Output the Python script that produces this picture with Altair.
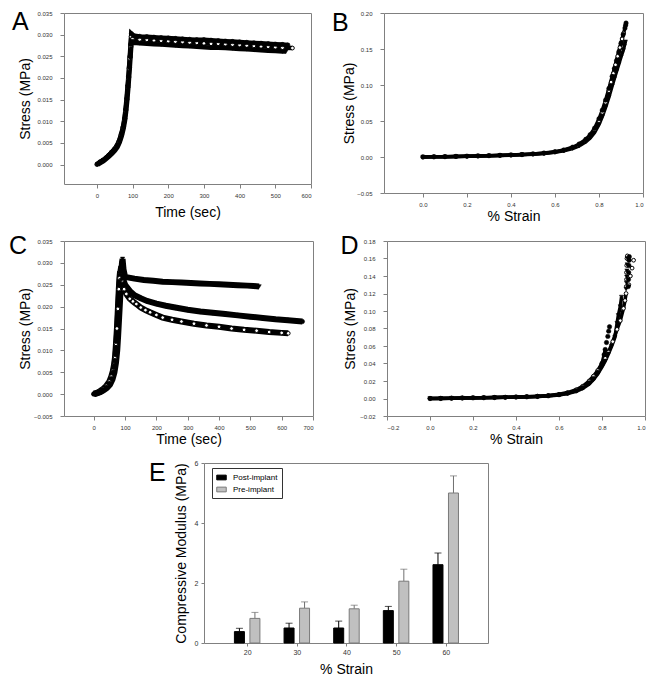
import altair as alt
import pandas as pd

FONT = "Liberation Sans"

# ---------------- Panel A : stress relaxation (time, stress) ----------------
a_fill_t = [1, 9, 17, 25, 33, 41, 49, 56, 63, 69, 74, 78, 81, 84, 87, 89, 91, 93, 95, 97,
            102, 120, 140, 160, 180, 200, 220, 240, 260, 280, 300, 320, 340, 360, 380, 400,
            420, 440, 460, 480, 500, 520, 535]
a_fill_s = [0.0001, 0.0006, 0.0010, 0.0015, 0.0021, 0.0028, 0.0035, 0.0043, 0.0055, 0.0071,
            0.0087, 0.0106, 0.0127, 0.0152, 0.0182, 0.0203, 0.0225, 0.0250, 0.0278, 0.0302,
            0.0298, 0.0296, 0.0295, 0.0294, 0.0293, 0.0292, 0.0291, 0.0290, 0.0289, 0.0288,
            0.0288, 0.0287, 0.0286, 0.0285, 0.0284, 0.0283, 0.0282, 0.0281, 0.0280, 0.0279,
            0.0278, 0.0277, 0.0276]
a_open_t = [0, 8, 16, 24, 32, 40, 48, 55, 62, 68, 73, 77, 80, 83, 86, 88, 90, 92, 94, 96,
            100, 120, 140, 160, 180, 200, 220, 240, 260, 280, 300, 320, 340, 360, 380, 400,
            420, 440, 460, 480, 500, 520, 548]
a_open_s = [0.0000, 0.0005, 0.0009, 0.0014, 0.0020, 0.0027, 0.0034, 0.0042, 0.0054, 0.0070,
            0.0086, 0.0105, 0.0125, 0.0150, 0.0180, 0.0200, 0.0222, 0.0245, 0.0272, 0.0296,
            0.0290, 0.0289, 0.0288, 0.0287, 0.0286, 0.0285, 0.0284, 0.0283, 0.0282, 0.0281,
            0.0280, 0.0279, 0.0279, 0.0278, 0.0277, 0.0276, 0.0275, 0.0274, 0.0273, 0.0272,
            0.0271, 0.0270, 0.0269]
a_tri_t = [3, 11, 19, 27, 35, 43, 51, 58, 64, 70, 75, 79, 82, 85, 88, 90, 92, 94, 96, 98,
           104, 120, 140, 160, 180, 200, 220, 240, 260, 280, 300, 320, 340, 360, 380, 400,
           420, 440, 460, 480, 500, 520, 530]
a_tri_s = [0.0000, 0.0004, 0.0008, 0.0013, 0.0019, 0.0025, 0.0032, 0.0040, 0.0051, 0.0066,
           0.0083, 0.0102, 0.0122, 0.0146, 0.0175, 0.0197, 0.0220, 0.0244, 0.0268, 0.0285,
           0.0281, 0.0280, 0.0279, 0.0278, 0.0277, 0.0276, 0.0275, 0.0274, 0.0273, 0.0272,
           0.0271, 0.0270, 0.0270, 0.0269, 0.0268, 0.0267, 0.0266, 0.0265, 0.0264, 0.0263,
           0.0262, 0.0261, 0.0261]

# ---------------- Panel B : stress-strain ----------------
b_flat_x = [0.00, 0.05, 0.10, 0.15, 0.20, 0.25, 0.30, 0.35, 0.40, 0.45, 0.50, 0.55, 0.60]
b_open_x = b_flat_x + [0.64, 0.68, 0.71, 0.74, 0.76, 0.78, 0.80, 0.815, 0.83, 0.845, 0.855,
                       0.865, 0.875, 0.885, 0.895, 0.905, 0.912]
b_open_s = [0.0000, 0.0002, 0.0005, 0.0008, 0.0011, 0.0014, 0.0018, 0.0022, 0.0027, 0.0033,
            0.0041, 0.0052, 0.0070, 0.0092, 0.0128, 0.0168, 0.0228, 0.0290, 0.0375, 0.0500,
            0.0620, 0.0760, 0.0920, 0.1040, 0.1160, 0.1280, 0.1400, 0.1520, 0.1640, 0.1720]
b_fill_x = b_flat_x + [0.64, 0.68, 0.71, 0.74, 0.76, 0.78, 0.80, 0.815, 0.83, 0.845, 0.86,
                       0.87, 0.88, 0.89, 0.90, 0.91, 0.918, 0.921, 0.923]
b_fill_s = [0.0000, 0.0002, 0.0005, 0.0008, 0.0011, 0.0015, 0.0019, 0.0023, 0.0028, 0.0034,
            0.0043, 0.0055, 0.0074, 0.0097, 0.0136, 0.0180, 0.0245, 0.0310, 0.0400, 0.0530,
            0.0650, 0.0790, 0.0950, 0.1120, 0.1230, 0.1340, 0.1460, 0.1580, 0.1700, 0.1790,
            0.1830, 0.1860]
b_tri_x = b_flat_x + [0.64, 0.68, 0.71, 0.74, 0.76, 0.78, 0.80, 0.815, 0.83, 0.845, 0.86,
                      0.87, 0.88, 0.89, 0.90, 0.91, 0.915, 0.918, 0.920]
b_tri_s = [0.0000, 0.0002, 0.0004, 0.0007, 0.0010, 0.0013, 0.0017, 0.0021, 0.0026, 0.0032,
           0.0039, 0.0049, 0.0066, 0.0086, 0.0118, 0.0155, 0.0210, 0.0265, 0.0340, 0.0450,
           0.0560, 0.0690, 0.0830, 0.0990, 0.1090, 0.1190, 0.1290, 0.1390, 0.1480, 0.1540,
           0.1580, 0.1600]

# ---------------- Panel C : stress relaxation, three samples ----------------
c_tri_t = [2, 12, 22, 32, 42, 52, 60, 66, 71, 75, 78, 81, 84, 87, 90, 92, 95,
           100, 130, 160, 190, 220, 250, 280, 310, 340, 370, 400, 430, 460, 490, 510, 528]
c_tri_s = [0.0000, 0.0002, 0.0005, 0.0009, 0.0014, 0.0022, 0.0034, 0.0050, 0.0072, 0.0100,
           0.0135, 0.0175, 0.0215, 0.0260, 0.0300, 0.0309, 0.0285,
           0.0268, 0.0264, 0.0261, 0.0259, 0.0257, 0.0256, 0.0255, 0.0254, 0.0253, 0.0252,
           0.0251, 0.0250, 0.0249, 0.0248, 0.0247, 0.0246]
c_fill_t = [0, 10, 20, 30, 40, 50, 57, 62, 66, 70, 73, 76, 79, 82, 85, 88,
            93, 100, 115, 130, 150, 170, 200, 230, 260, 300, 340, 380, 420, 460, 500, 540,
            580, 620, 666]
c_fill_s = [0.0000, 0.0002, 0.0005, 0.0010, 0.0016, 0.0025, 0.0036, 0.0050, 0.0066, 0.0090,
            0.0120, 0.0160, 0.0205, 0.0250, 0.0280, 0.0292,
            0.0265, 0.0250, 0.0236, 0.0226, 0.0219, 0.0213, 0.0207, 0.0202, 0.0198, 0.0193,
            0.0189, 0.0186, 0.0183, 0.0180, 0.0177, 0.0174, 0.0171, 0.0169, 0.0166]
c_open_t = [0, 10, 20, 30, 40, 50, 56, 61, 65, 68, 71, 74, 77, 80, 82, 84,
            90, 97, 104, 115, 125, 136, 150, 165, 180, 200, 220, 250, 280, 320, 360, 400,
            440, 480, 520, 560, 600, 621]
c_open_s = [0.0001, 0.0003, 0.0007, 0.0012, 0.0019, 0.0029, 0.0040, 0.0053, 0.0068, 0.0085,
            0.0115, 0.0150, 0.0195, 0.0240, 0.0265, 0.0280,
            0.0260, 0.0240, 0.0229, 0.0218, 0.0212, 0.0206, 0.0198, 0.0192, 0.0187, 0.0181,
            0.0175, 0.0170, 0.0166, 0.0161, 0.0157, 0.0154, 0.0150, 0.0147, 0.0145, 0.0142,
            0.0140, 0.0139]

# ---------------- Panel D : stress-strain, three samples ----------------
d_flat_x = [0.00, 0.05, 0.10, 0.15, 0.20, 0.25, 0.30, 0.35, 0.40, 0.45, 0.50, 0.55, 0.60]
d_open_x = d_flat_x + [0.64, 0.68, 0.71, 0.74, 0.76, 0.78, 0.80, 0.815, 0.83, 0.85, 0.87,
                       0.885, 0.90, 0.907, 0.912]
d_open_s = [0.0000, 0.0002, 0.0004, 0.0006, 0.0008, 0.0010, 0.0012, 0.0014, 0.0017, 0.0021,
            0.0026, 0.0034, 0.0048, 0.0068, 0.0100, 0.0140, 0.0200, 0.0255, 0.0320, 0.0400,
            0.0460, 0.0530, 0.0650, 0.0790, 0.0890, 0.1030, 0.1120, 0.1200]
d_open_tail_x = [0.913, 0.914, 0.914, 0.915, 0.916, 0.918, 0.925, 0.932, 0.940, 0.947]
d_open_tail_s = [0.1280, 0.1360, 0.1440, 0.1520, 0.1600, 0.1630, 0.1300, 0.1400, 0.1490, 0.1580]
d_tri_x = d_flat_x + [0.64, 0.68, 0.71, 0.74, 0.76, 0.78, 0.80, 0.815, 0.83, 0.845, 0.86,
                      0.87, 0.876, 0.885, 0.891]
d_tri_s = [0.0000, 0.0001, 0.0003, 0.0005, 0.0007, 0.0009, 0.0011, 0.0013, 0.0015, 0.0018,
           0.0022, 0.0028, 0.0040, 0.0056, 0.0082, 0.0115, 0.0165, 0.0215, 0.0280, 0.0360,
           0.0430, 0.0510, 0.0600, 0.0700, 0.0860, 0.0950, 0.1050, 0.1160]
d_tri_tail_x = [0.912, 0.914, 0.915, 0.916, 0.917, 0.918]
d_tri_tail_s = [0.1250, 0.1320, 0.1390, 0.1460, 0.1530, 0.1600]
d_fill_x = d_flat_x + [0.64, 0.68, 0.71, 0.74, 0.76, 0.78, 0.80, 0.81, 0.815]
d_fill_s = [0.0000, 0.0001, 0.0003, 0.0005, 0.0007, 0.0009, 0.0011, 0.0013, 0.0016, 0.0019,
            0.0024, 0.0031, 0.0044, 0.0060, 0.0090, 0.0125, 0.0180, 0.0230, 0.0300, 0.0400,
            0.0500, 0.0560]
d_fill_tail_x = [0.821, 0.827, 0.831, 0.835, 0.922, 0.923, 0.924, 0.925, 0.926, 0.927]
d_fill_tail_s = [0.0640, 0.0710, 0.0770, 0.0820, 0.1280, 0.1360, 0.1440, 0.1520, 0.1580, 0.1620]

# ---------------- Panel E : compressive modulus ----------------
e_strain = [20, 30, 40, 50, 60]
e_series = ["Post-implant", "Pre-implant"]
post_mean = [0.38, 0.50, 0.50, 1.08, 2.61]
post_err = [0.11, 0.16, 0.23, 0.14, 0.39]
pre_mean = [0.82, 1.16, 1.14, 2.06, 5.00]
pre_err = [0.20, 0.21, 0.12, 0.40, 0.57]

# ---------------- helpers ----------------
AX = dict(grid=False, domain=False, ticks=True, tickSize=4, tickColor="#808080",
          tickWidth=1, labelFont=FONT, labelFontSize=6, labelColor="#333333",
          titleFont=FONT, titleFontSize=14, titleFontWeight="normal", titleColor="black")


def letter_layer(letter, dx, dy):
    return alt.Chart(pd.DataFrame({"L": [letter]})).mark_text(
        align="left", baseline="alphabetic", fontSize=25, font=FONT, color="black"
    ).encode(text="L:N", x=alt.value(dx), y=alt.value(dy))


def scatter_panel(lined, tails, xdom, ydom, xvals, yvals, xfmt, yfmt, xtitle, ytitle,
                  w, h, letter, ldx, ldy, ytx, xty, sw=4.5, lpad_y=8, lpad_x=4):
    xenc = alt.X("x:Q", scale=alt.Scale(domain=xdom, nice=False, zero=False),
                 axis=alt.Axis(values=xvals, format=xfmt, title=xtitle, titleY=xty,
                               labelPadding=lpad_x, **AX))
    yenc = alt.Y("y:Q", scale=alt.Scale(domain=ydom, nice=False, zero=False),
                 axis=alt.Axis(values=yvals, format=yfmt, title=ytitle, titleX=ytx,
                               labelPadding=lpad_y, **AX))
    lines, points = [], []
    for xs, ys, kind in lined:
        df = pd.DataFrame({"x": xs, "y": ys, "i": list(range(len(xs)))})
        lines.append(alt.Chart(df).mark_line(color="black", strokeWidth=sw)
                     .encode(x=xenc, y=yenc, order="i:Q"))
        points.append((df, kind))
    for xs, ys, kind in tails:
        points.append((pd.DataFrame({"x": xs, "y": ys}), kind))
    # open symbols first, filled ones over them
    points.sort(key=lambda p: 0 if p[1] == "open" else 1)
    pts = []
    for df, kind in points:
        if kind == "fill":
            m = alt.Chart(df).mark_point(shape="circle", filled=True, fill="black",
                                         stroke="black", strokeWidth=0.5, size=20, opacity=1)
        elif kind == "open":
            m = alt.Chart(df).mark_point(shape="circle", filled=True, fill="white",
                                         stroke="black", strokeWidth=1, size=14, opacity=1)
        else:
            m = alt.Chart(df).mark_point(shape="triangle-down", filled=True, fill="black",
                                         stroke="black", strokeWidth=0.5, size=18, opacity=1)
        pts.append(m.encode(x=xenc, y=yenc))
    return alt.layer(*lines, *pts, letter_layer(letter, ldx, ldy)).properties(
        width=w, height=h)


panel_a = scatter_panel(
    [(a_tri_t, a_tri_s, "tri"), (a_open_t, a_open_s, "open"), (a_fill_t, a_fill_s, "fill")],
    [], [-92, 600], [-0.0045, 0.035],
    [0, 100, 200, 300, 400, 500, 600],
    [0.0, 0.005, 0.01, 0.015, 0.02, 0.025, 0.03, 0.035], "d", ".3f",
    "Time (sec)", "Stress (MPa)", 247, 171, "A", -52, 17, -31.5, 21.5, sw=4.5)

panel_b = scatter_panel(
    [(b_tri_x, b_tri_s, "tri"), (b_open_x, b_open_s, "open"), (b_fill_x, b_fill_s, "fill")],
    [], [-0.177, 1.0], [-0.05, 0.2],
    [0.0, 0.2, 0.4, 0.6, 0.8, 1.0], [-0.05, 0.0, 0.05, 0.1, 0.15, 0.2], ".1f", ".2f",
    "% Strain", "Stress (MPa)", 259, 180, "B", -52, 18, -27.7, 16.5, sw=3.5)

panel_c = scatter_panel(
    [(c_open_t, c_open_s, "open"), (c_fill_t, c_fill_s, "fill"), (c_tri_t, c_tri_s, "tri")],
    [], [-95, 700], [-0.005, 0.035],
    [0, 100, 200, 300, 400, 500, 600, 700],
    [-0.005, 0.0, 0.005, 0.01, 0.015, 0.02, 0.025, 0.03, 0.035], "d", ".3f",
    "Time (sec)", "Stress (MPa)", 249, 175, "C", -55, 13.3, -31.7, 16.5, sw=6)

panel_d = scatter_panel(
    [(d_fill_x, d_fill_s, "fill"), (d_tri_x, d_tri_s, "tri"), (d_open_x, d_open_s, "open")],
    [(d_fill_tail_x, d_fill_tail_s, "fill"), (d_tri_tail_x, d_tri_tail_s, "tri"),
     (d_open_tail_x, d_open_tail_s, "open")],
    [-0.2, 1.0], [-0.02, 0.18],
    [-0.2, 0.0, 0.2, 0.4, 0.6, 0.8, 1.0],
    [-0.02, 0.0, 0.02, 0.04, 0.06, 0.08, 0.1, 0.12, 0.14, 0.16, 0.18], ".1f", ".2f",
    "% Strain", "Stress (MPa)", 258, 175, "D", -46.6, 12.7, -29.3, 16, sw=3.5)

# ---- panel E (grouped bars with error bars) ----
edf = pd.DataFrame({
    "strain": e_strain * 2,
    "series": [e_series[0]] * 5 + [e_series[1]] * 5,
    "mean": post_mean + pre_mean,
    "err": post_err + pre_err,
})
ex = alt.X("strain:Q", scale=alt.Scale(domain=[12.3, 67.5], nice=False, zero=False),
           axis=alt.Axis(values=e_strain, format="d", title="% Strain", titleY=19.5,
                         labelPadding=2, **{**AX, "tickSize": 3, "labelFontSize": 7}))
ey = alt.Y("mean:Q", scale=alt.Scale(domain=[0, 6], nice=False),
           axis=alt.Axis(values=[0, 1, 2, 3, 4, 5, 6], format="d",
                         title="Compressive Modulus (MPa)", titleX=-15.7, labelPadding=3,
                         **{**AX, "tickSize": 3, "labelFontSize": 7}))
leg = alt.Legend(orient="none", legendX=148, legendY=455, title=None, labelFont=FONT,
                 labelFontSize=8, labelColor="black", symbolType="M-1,-0.5H1V0.5H-1Z",
                 symbolSize=90, symbolStrokeWidth=1, strokeColor="#333333", padding=4,
                 rowPadding=2, labelOffset=6, fillColor="white")
fill_enc = alt.Fill("series:N", scale=alt.Scale(domain=e_series, range=["black", "#c0c0c0"]),
                    legend=leg)
stroke_enc = alt.Stroke("series:N", scale=alt.Scale(domain=e_series,
                                                    range=["black", "#7a7a7a"]), legend=leg)
ebase = alt.Chart(edf).transform_calculate(cap="datum.mean + datum.err")
e_layers = []
for s, off, col in [(e_series[0], -7.8, "black"), (e_series[1], 7.7, "#707070")]:
    b = ebase.transform_filter(alt.datum.series == s)
    e_layers.append(b.mark_rule(xOffset=off, color=col, strokeWidth=1)
                    .encode(x=ex, y=ey, y2="cap:Q"))
    e_layers.append(b.mark_tick(orient="horizontal", xOffset=off, size=7, thickness=1,
                                color=col)
                    .encode(x=ex, y=alt.Y("cap:Q")))
    e_layers.append(b.mark_bar(width=10, xOffset=off, strokeWidth=1)
                    .encode(x=ex, y=ey, fill=fill_enc, stroke=stroke_enc))
panel_e = alt.layer(*e_layers, letter_layer("E", -55, 18.3)).properties(width=284, height=180)

spacer = alt.Chart(pd.DataFrame({"v": [0]})).mark_rect(color="white").encode(
    x=alt.value(0), x2=alt.value(130), y=alt.value(0), y2=alt.value(10)
).properties(width=130, height=10, view=alt.ViewBackground(strokeOpacity=0))

row1 = alt.hconcat(panel_a, panel_b, spacing=73, bounds="flush")
row2 = alt.hconcat(panel_c, panel_d, spacing=74, bounds="flush")
row3 = alt.hconcat(spacer, panel_e, spacing=10, bounds="flush")

top = alt.vconcat(row1, row2, spacing=9)
chart = alt.vconcat(top, row3, spacing=11).properties(
    padding={"left": 0, "top": 1, "right": 0, "bottom": 0}
).configure(font=FONT, background="white").configure_view(
    stroke="#808080", strokeWidth=1)

chart.save("out.html", embed_options={"renderer": "svg", "actions": False})
